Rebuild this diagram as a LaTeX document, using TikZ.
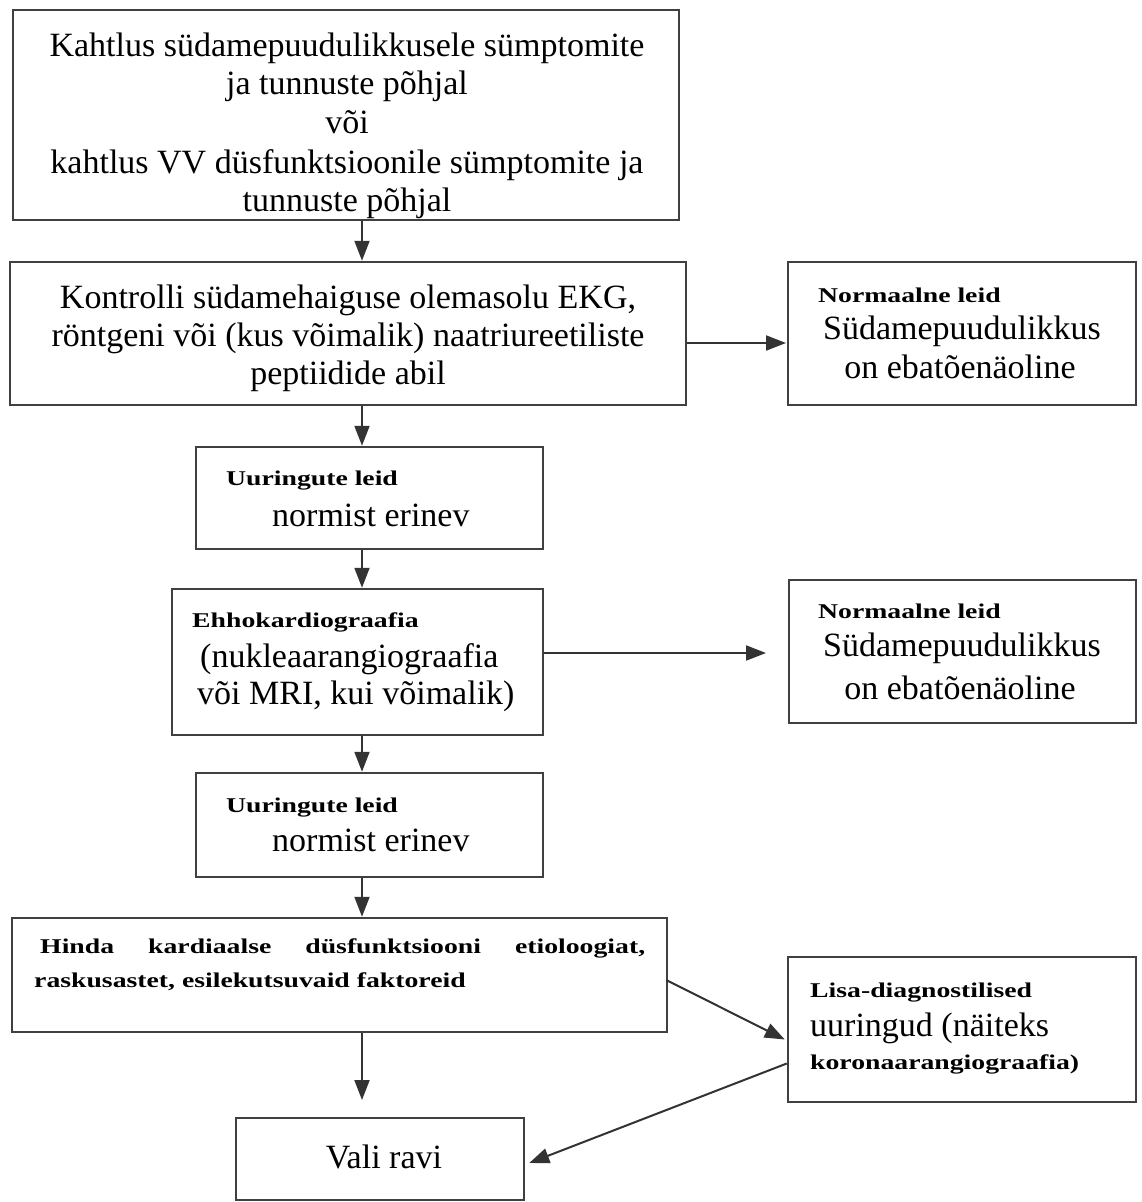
\documentclass[tikz,border=0pt]{standalone}
\usepackage{fontspec}
\setmainfont{Liberation Serif}
\newfontfamily\widebf[FakeStretch=1.32]{Liberation Serif}
\usetikzlibrary{arrows.meta,calc}
\begin{document}
\begin{tikzpicture}[x=1pt,y=-1pt,
  box/.style={draw=black!75, line width=2.5pt, rectangle, inner sep=0pt},
  arr/.style={draw=black!80, line width=2pt, -{Triangle[width=15pt,length=20pt]}},
  big/.style={font=\fontsize{34}{39}\selectfont, inner sep=0pt},
  small/.style={font=\fontsize{21}{34}\selectfont\widebf\bfseries, inner sep=0pt}]
\useasboundingbox[fill=white] (0,0) rectangle (1141,1202);
% boxes
\node[box, minimum width=666pt, minimum height=210pt] (b1) at (346,115) {};
\node[box, minimum width=676pt, minimum height=143pt] (b2) at (348,333.5) {};
\node[box, minimum width=348pt, minimum height=143pt] (n1) at (962,333.5) {};
\node[box, minimum width=347pt, minimum height=102pt] (b3) at (369.5,498) {};
\node[box, minimum width=371pt, minimum height=146pt] (b4) at (357.5,662) {};
\node[box, minimum width=347pt, minimum height=143pt] (n2) at (962.5,651.5) {};
\node[box, minimum width=347pt, minimum height=104pt] (b5) at (369.5,825) {};
\node[box, minimum width=655pt, minimum height=114pt] (b6) at (339.5,975) {};
\node[box, minimum width=348pt, minimum height=145pt] (lisa) at (962,1029.5) {};
\node[box, minimum width=288pt, minimum height=82pt] (vali) at (380,1159) {};
% texts
\node[big, anchor=base] (t1a) at (347,56) {Kahtlus südamepuudulikkusele sümptomite};
\node[big, anchor=base] (t1b) at (347,94) {ja tunnuste põhjal};
\node[big, anchor=base] (t1c) at (347,133) {või};
\node[big, anchor=base] (t1d) at (347,173) {kahtlus VV düsfunktsioonile sümptomite ja};
\node[big, anchor=base] (t1e) at (347,211) {tunnuste põhjal};
\node[big, anchor=base] (t2a) at (348,308) {Kontrolli südamehaiguse olemasolu EKG,};
\node[big, anchor=base] (t2b) at (348,346) {röntgeni või (kus võimalik) naatriureetiliste};
\node[big, anchor=base] (t2c) at (348,384) {peptiidide abil};
\node[small, anchor=base west] (n1a) at (818,302) {Normaalne leid};
\node[big, anchor=base] (n1b) at (962,339) {Südamepuudulikkus};
\node[big, anchor=base] (n1c) at (960,378) {on ebatõenäoline};
\node[small, anchor=base west] (t3a) at (226,485) {Uuringute leid};
\node[big, anchor=base west] (t3b) at (272,526) {normist erinev};
\node[small, anchor=base west] (t4a) at (192,627) {Ehhokardiograafia};
\node[big, anchor=base west] (t4b) at (200,667) {(nukleaarangiograafia};
\node[big, anchor=base west] (t4c) at (197,704) {või MRI, kui võimalik)};
\node[small, anchor=base west] (n2a) at (818,618) {Normaalne leid};
\node[big, anchor=base] (n2b) at (962,656) {Südamepuudulikkus};
\node[big, anchor=base] (n2c) at (960,699) {on ebatõenäoline};
\node[small, anchor=base west] (t5a) at (226,812) {Uuringute leid};
\node[big, anchor=base west] (t5b) at (272,851) {normist erinev};
\node[small, anchor=base west] (t6a) at (40,953) {\makebox[605pt][s]{Hinda kardiaalse düsfunktsiooni etioloogiat,}};
\node[small, anchor=base west] (t6b) at (34,987) {raskusastet, esilekutsuvaid faktoreid};
\node[small, anchor=base west] (l1) at (810,997) {Lisa-diagnostilised};
\node[big, anchor=base west] (l2) at (810,1036) {uuringud (näiteks};
\node[small, anchor=base west] (l3) at (810,1069) {koronaarangiograafia)};
\node[big, anchor=base] (v1) at (384,1168) {Vali ravi};
% connectors
\coordinate (ax) at (362,0);
\coordinate (v6) at (362,1100);
\coordinate (h1) at (786,343);
\coordinate (h2) at (766,653);
\draw[arr] (b1.south -| ax) -- (b2.north -| ax);
\draw[arr] (b2.south -| ax) -- (b3.north -| ax);
\draw[arr] (b3.south -| ax) -- (b4.north -| ax);
\draw[arr] (b4.south -| ax) -- (b5.north -| ax);
\draw[arr] (b5.south -| ax) -- (b6.north -| ax);
\draw[arr] (b6.south -| ax) -- (v6);
\draw[arr] (b2.east |- h1) -- (h1);
\draw[arr] (b4.east |- h2) -- (h2);
\draw[arr] ($(b6.east)+(-2,5)$) -- ($(lisa.west)+(-2,10)$);
\draw[arr] ($(lisa.west)+(0,34)$) -- ($(vali.east)+(4,4)$);
\end{tikzpicture}
\end{document}
